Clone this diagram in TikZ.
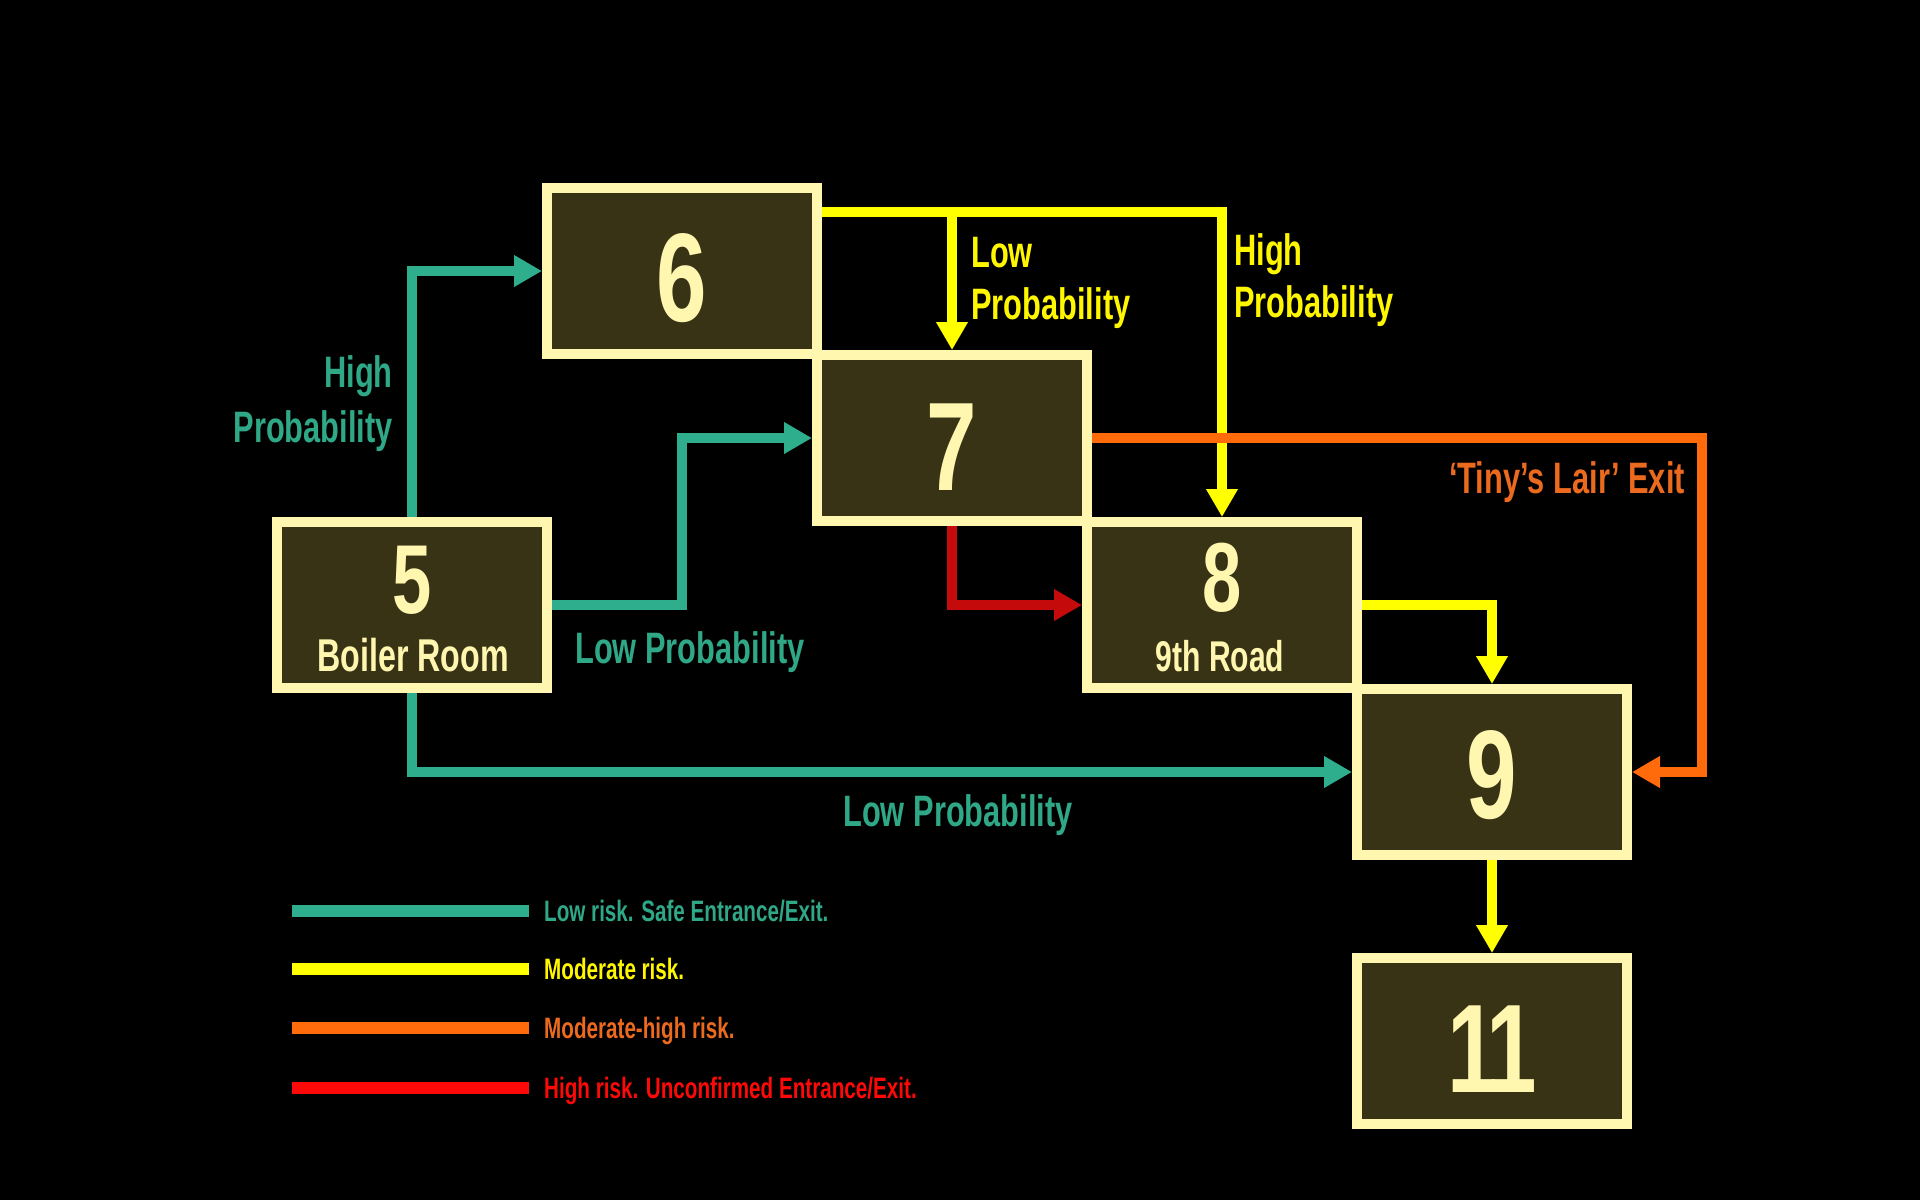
\documentclass[tikz,border=0pt]{standalone}
\usepackage{fontspec}
\setmainfont{Liberation Sans}[FakeStretch=0.7]
\newfontfamily\numfont{Liberation Sans}[FakeStretch=0.72]
\usetikzlibrary{arrows.meta}
\definecolor{cream}{HTML}{FFF6B0}
\definecolor{olive}{HTML}{393316}
\definecolor{tealc}{HTML}{2FAE8E}
\definecolor{tealt}{HTML}{2FA887}
\definecolor{yel}{HTML}{FFFF00}
\definecolor{yelt}{HTML}{FFF700}
\definecolor{orng}{HTML}{FF6A0A}
\definecolor{orngt}{HTML}{EC6A1E}
\definecolor{dred}{HTML}{C40A0A}
\definecolor{lred}{HTML}{FF0808}
\begin{document}
\begin{tikzpicture}[x=1pt,y=-1pt,
  room/.style={draw=cream, fill=olive, line width=10pt, minimum width=270pt, minimum height=166pt, inner sep=0pt},
  bignum/.style={text=cream, font=\numfont\bfseries\fontsize{126}{126}\selectfont, anchor=base, inner sep=0pt},
  smallnum/.style={text=cream, font=\numfont\bfseries\fontsize{98}{98}\selectfont, anchor=base, inner sep=0pt},
  subtitle/.style={text=cream, font=\bfseries\fontsize{46}{46}\selectfont, anchor=base, inner sep=0pt},
  lbl/.style={font=\bfseries\fontsize{44}{44}\selectfont, inner sep=0pt},
  legtext/.style={font=\bfseries\fontsize{29.5}{29.5}\selectfont, inner sep=0pt, anchor=base west},
  conn/.style={line width=10pt, -{Triangle[length=28pt,width=30pt]}},
  legbar/.style={line width=12pt},
]
\fill[black] (0,0) rectangle (1920,1200);
\useasboundingbox (0,0) rectangle (1920,1200);

% rooms
\node[room] (b6) at (682,271) {};
\node[room] (b7) at (952,438) {};
\node[room] (b5) at (412,605) {};
\node[room] (b8) at (1222,605) {};
\node[room] (b9) at (1492,772) {};
\node[room] (b11) at (1492,1041) {};

\node[bignum] (n6) at (682,321) {6};
\node[bignum] (n7) at (952,490) {7};
\node[bignum] (n9) at (1492,818) {9};
\node[bignum] (n11) at (1492,1092) {1\kern-12pt 1};
\node[smallnum] (n5) at (412,613) {5};
\node[smallnum] (n8) at (1222,611) {8};
\node[subtitle] (s5) at (413,671) {Boiler Room};
\node[subtitle, font=\bfseries\fontsize{43}{43}\selectfont] (s8) at (1220,671) {9th Road};

% coordinates for bends
\coordinate (tA) at (682,605);
\coordinate (yA) at (952,212);
\coordinate (yB) at (1222,212);
\coordinate (oA) at (1702,438);
\coordinate (oB) at (1702,772);

% teal connectors
\draw[conn, tealc] (b5.north) |- (b6.west);
\draw[conn, tealc] (b5.east) -- (tA) |- (b7.west);
\draw[conn, tealc] (b5.south) |- (b9.west);

% yellow connectors
\draw[conn, yel] (b6.east |- yA) -- (yB) -- (b8.north);
\draw[conn, yel] (yA) -- (b7.north);
\draw[conn, yel] (b8.east) -| (b9.north);
\draw[conn, yel] (b9.south) -- (b11.north);

% orange connector
\draw[conn, orng] (b7.east) -- (oA) -- (oB) -- (b9.east);

% red connector
\draw[conn, dred] (b7.south) |- (b8.west);

% labels
\node[lbl, text=tealt, anchor=base east] (lh1) at (393,387) {High};
\node[lbl, text=tealt, anchor=base east] (lh2) at (393,442) {Probability};
\node[lbl, text=tealt, anchor=base west] (ll1) at (575,663) {Low Probability};
\node[lbl, text=tealt, anchor=base] (ll2) at (958,826) {Low Probability};
\node[lbl, text=yelt, anchor=base west] (yl1) at (971,267) {Low};
\node[lbl, text=yelt, anchor=base west] (yl2) at (971,319) {Probability};
\node[lbl, text=yelt, anchor=base west] (yh1) at (1234,265) {High};
\node[lbl, text=yelt, anchor=base west] (yh2) at (1234,317) {Probability};
\node[lbl, text=orngt, anchor=base east] (ot) at (1685,493) {‘Tiny’s Lair’ Exit};

% legend
\draw[legbar, tealc] (292,911) -- (529,911);
\draw[legbar, yel] (292,969) -- (529,969);
\draw[legbar, orng] (292,1028) -- (529,1028);
\draw[legbar, lred] (292,1088) -- (529,1088);
\node[legtext, text=tealt] (lg1) at (544,921) {Low risk. Safe Entrance/Exit.};
\node[legtext, text=yelt] (lg2) at (544,979) {Moderate risk.};
\node[legtext, text=orngt] (lg3) at (544,1038) {Moderate-high risk.};
\node[legtext, text=lred] (lg4) at (544,1098) {High risk. Unconfirmed Entrance/Exit.};
\end{tikzpicture}
\end{document}
